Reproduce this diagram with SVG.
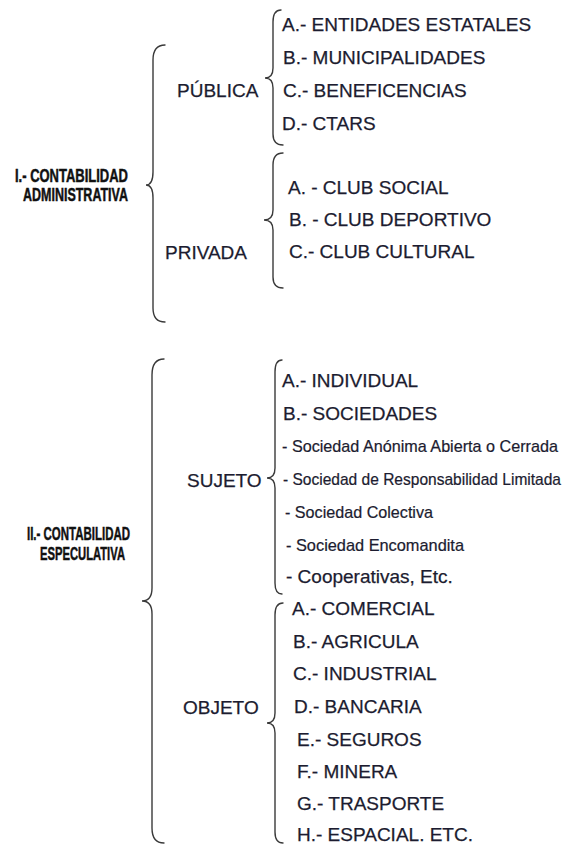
<svg xmlns="http://www.w3.org/2000/svg" width="566" height="845" viewBox="0 0 566 845">
<style>
.t{font-family:"Liberation Sans",Arial,sans-serif;font-size:19px;fill:#1c1c30;stroke:#1c1c30;stroke-width:0.25}
.s{font-family:"Liberation Sans",Arial,sans-serif;font-size:15.5px;fill:#1c1c30;stroke:#1c1c30;stroke-width:0.2}
.h{font-family:"Liberation Sans",Arial,sans-serif;font-size:18.5px;font-weight:bold;fill:#111;stroke:#111;stroke-width:0.5}
.b{fill:none;stroke:#3a3a3a;stroke-width:1.4;stroke-linecap:round}
</style>
<rect width="566" height="845" fill="#fff"/>
<g id="connectors">
<path class="b" d="M165,45 Q153,45 153,60 L153,172 Q153,185 146,185 Q153,185 153,198 L153,308 Q153,322 165,322"/>
<path class="b" d="M281,10 Q273,10 273,22 L273,68 Q273,78 265,78 Q273,78 273,88 L273,134 Q273,145 283,145"/>
<path class="b" d="M283,153 Q273,153 273,165 L273,210 Q273,220 264,220 Q273,220 273,230 L273,277 Q273,288 283,288"/>
<path class="b" d="M164,359 Q152,359 152,375 L152,588 Q152,601 142,601 Q152,601 152,614 L152,828 Q152,843 164,843"/>
<path class="b" d="M282,360 Q275,360 275,372 L275,468 Q275,478 267,478 Q275,478 275,488 L275,583 Q275,594 282,594"/>
<path class="b" d="M283,603 Q275,603 275,615 L275,713 Q275,723 267,723 Q275,723 275,733 L275,832 Q275,843 283,843"/>
</g>
<g id="admin">
<text class="h" x="15" y="182" textLength="113" lengthAdjust="spacingAndGlyphs">I.- CONTABILIDAD</text>
<text class="h" x="23" y="201" textLength="105" lengthAdjust="spacingAndGlyphs">ADMINISTRATIVA</text>
</g>
<g id="publica">
<text class="t" x="177" y="97">PÚBLICA</text>
</g>
<g id="publica-items">
<text class="t" x="282" y="31">A.- ENTIDADES ESTATALES</text>
<text class="t" x="283" y="64">B.- MUNICIPALIDADES</text>
<text class="t" x="283" y="97">C.- BENEFICENCIAS</text>
<text class="t" x="282" y="130">D.- CTARS</text>
</g>
<g id="privada">
<text class="t" x="165" y="259">PRIVADA</text>
</g>
<g id="privada-items">
<text class="t" x="288" y="194">A. - CLUB SOCIAL</text>
<text class="t" x="289" y="226">B. - CLUB DEPORTIVO</text>
<text class="t" x="289" y="258">C.- CLUB CULTURAL</text>
</g>
<g id="especulativa">
<text class="h" x="27" y="540" textLength="103" lengthAdjust="spacingAndGlyphs">II.- CONTABILIDAD</text>
<text class="h" x="40" y="560" textLength="85" lengthAdjust="spacingAndGlyphs">ESPECULATIVA</text>
</g>
<g id="sujeto">
<text class="t" x="187" y="487">SUJETO</text>
</g>
<g id="sujeto-items">
<text class="t" x="282" y="387">A.- INDIVIDUAL</text>
<text class="t" x="283" y="420">B.- SOCIEDADES</text>
<text class="s" transform="translate(282,452) scale(1,1.12)" textLength="276" lengthAdjust="spacingAndGlyphs">- Sociedad Anónima Abierta o Cerrada</text>
<text class="s" transform="translate(283,485) scale(1,1.12)" textLength="278" lengthAdjust="spacingAndGlyphs">- Sociedad de Responsabilidad Limitada</text>
<text class="s" transform="translate(285,518) scale(1,1.12)" textLength="148" lengthAdjust="spacingAndGlyphs">- Sociedad Colectiva</text>
<text class="s" transform="translate(286,551) scale(1,1.12)" textLength="178" lengthAdjust="spacingAndGlyphs">- Sociedad Encomandita</text>
<text class="t" x="286" y="583">- Cooperativas, Etc.</text>
</g>
<g id="objeto">
<text class="t" x="183" y="714">OBJETO</text>
</g>
<g id="objeto-items">
<text class="t" x="292" y="615">A.- COMERCIAL</text>
<text class="t" x="293" y="648">B.- AGRICULA</text>
<text class="t" x="293" y="680">C.- INDUSTRIAL</text>
<text class="t" x="294" y="713">D.- BANCARIA</text>
<text class="t" x="297" y="746">E.- SEGUROS</text>
<text class="t" x="297" y="778">F.- MINERA</text>
<text class="t" x="297" y="810">G.- TRASPORTE</text>
<text class="t" x="297" y="841">H.- ESPACIAL. ETC.</text>
</g>
</svg>
